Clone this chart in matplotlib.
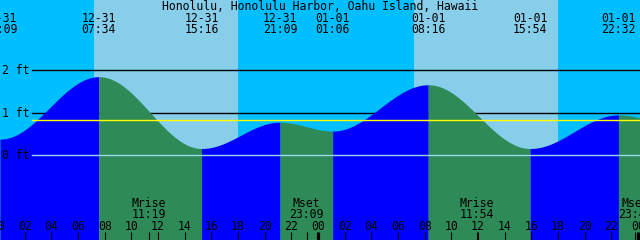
import numpy as np
import matplotlib
matplotlib.use("Agg")
import matplotlib.pyplot as plt

title = "Honolulu, Honolulu Harbor, Oahu Island, Hawaii"

# tide extremes; the first and last one fall just outside the window
tide_dates = ["12-30", "12-31", "12-31", "12-31", "12-31", "01-01", "01-01", "01-01", "01-01", "01-02"]
tide_times = ["19:30", "00:09", "07:34", "15:16", "21:09", "01:06", "08:16", "15:54", "22:32", "03:30"]
tide_levels = [0.95, 0.38, 1.85, 0.16, 0.78, 0.57, 1.66, 0.16, 0.95, 0.65]

sunrise = ["12-31 07:12", "01-01 07:12"]
sunset = ["12-31 18:00", "01-01 18:00"]

moon_events = ["Mrise", "Mset", "Mrise", "Mset"]
moon_dates = ["12-31", "12-31", "01-01", "01-01"]
moon_times = ["11:19", "23:09", "11:54", "23:47"]

mean_level = 0.82
ft_levels = [0, 1, 2]

day_offset = {"12-30": -24, "12-31": 0, "01-01": 24, "01-02": 48}


def to_hours(date, hm):
    hh, mm = hm.split(":")
    return day_offset[date] + int(hh) + int(mm) / 60.0


t_ext = np.array([to_hours(d, t) for d, t in zip(tide_dates, tide_times)])
lev_ext = np.array(tide_levels)

# window: 48 hours, 13.33 px per hour
t0, t1 = 0.15, 48.15
px_ft = 42.5
zero_px = 155.3
ylo, yhi = (zero_px - 240) / px_ft, zero_px / px_ft

night_col = "#00bfff"
day_col = "#87ceeb"
rise_col = "#0000ff"
fall_col = "#2e8b57"
font = dict(family="DejaVu Sans Mono", fontsize=8.3, color="black")

fig = plt.figure(figsize=(6.4, 2.4), dpi=100)
ax = fig.add_axes([0, 0, 1, 1])
ax.set_xlim(t0, t1)
ax.set_ylim(ylo, yhi)
ax.axis("off")
ax.set_facecolor(night_col)
fig.patch.set_facecolor(night_col)

# daylight
for sr, ss in zip(sunrise, sunset):
    a = to_hours(*sr.split(" "))
    b = to_hours(*ss.split(" "))
    ax.axvspan(a, b, color=day_col, lw=0, zorder=0)

# foot lines behind the water
for lv in ft_levels:
    if lv != 0:
        ax.axhline(lv, xmin=32 / 640, xmax=1, color="black", lw=1.0, zorder=1)

# water, cosine shaped between extremes
for i in range(len(t_ext) - 1):
    ta, tb = t_ext[i], t_ext[i + 1]
    la, lb = lev_ext[i], lev_ext[i + 1]
    tt = np.linspace(ta, tb, 200)
    ll = la + (lb - la) * (1 - np.cos(np.pi * (tt - ta) / (tb - ta))) / 2
    col = rise_col if lb > la else fall_col
    ax.fill_between(tt, ylo, ll, color=col, lw=0, zorder=2)

ax.axhline(0, xmin=32 / 640, xmax=1, color="#9ad6f0", lw=1.0, zorder=3)
ax.axhline(mean_level, xmin=32 / 640, xmax=1, color="yellow", lw=1.0, zorder=3)

ytr = ax.get_yaxis_transform()
for lv in ft_levels:
    ax.text(2 / 640, lv - 4 / px_ft, f"{lv} ft", transform=ytr, ha="left", va="baseline", zorder=5, **font)

xtr = ax.get_xaxis_transform()
ax.text(0.5, 1 - 10 / 240, title, transform=ax.transAxes, ha="center", va="baseline", zorder=5, **font)

for d, tm, th in zip(tide_dates, tide_times, t_ext):
    if th < t0 - 2 or th > t1 + 2:
        continue
    ax.text(th, 1 - 21.7 / 240, d, transform=xtr, ha="center", va="baseline", zorder=5, **font)
    ax.text(th, 1 - 33.3 / 240, tm, transform=xtr, ha="center", va="baseline", zorder=5, **font)

tick_h = 8.3 / 240
for name, d, tm in zip(moon_events, moon_dates, moon_times):
    th = to_hours(d, tm)
    ax.text(th, 1 - 207 / 240, name, transform=xtr, ha="center", va="baseline", zorder=5, **font)
    ax.text(th, 1 - 218 / 240, tm, transform=xtr, ha="center", va="baseline", zorder=5, **font)
    ax.vlines(th, 0, tick_h, transform=xtr, color="black", lw=0.8, zorder=5)

for h in range(0, 50, 2):
    ax.text(h, 1 - 230 / 240, f"{h % 24:02d}", transform=xtr, ha="center", va="baseline", zorder=5, **font)
    lw = 2.3 if h % 24 == 0 else 0.8
    ax.vlines(h, 0, tick_h, transform=xtr, color="black", lw=lw, zorder=5)

fig.savefig("out.png", dpi=100, facecolor=night_col)
